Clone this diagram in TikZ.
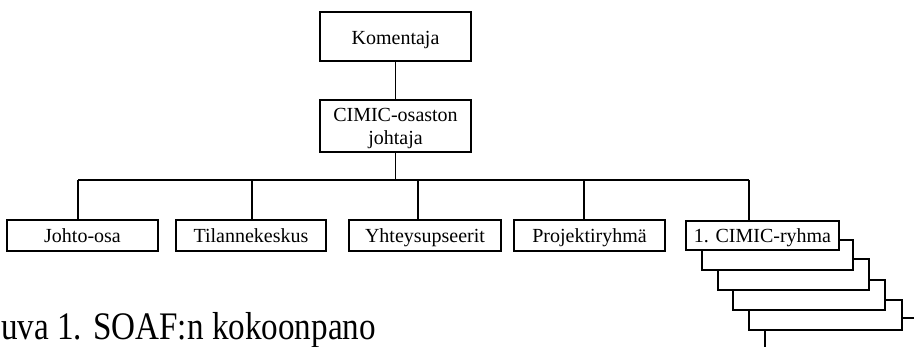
\documentclass[tikz,border=0pt]{standalone}
\usepackage{graphicx}
\usepackage{fontspec}
\setmainfont{Liberation Serif}
\begin{document}
\begin{tikzpicture}[x=1pt,y=-1pt,
  box/.style={draw,line width=1.4pt,fill=white,inner sep=0pt,align=center,
    text height=15pt,text depth=0pt,font=\fontsize{20}{23}\selectfont},
  conn/.style={line width=1.4pt}]
\useasboundingbox (0,0) rectangle (914,347);
\node[box,minimum width=151pt,minimum height=49pt,text height=17pt] (kom) at (395.5,36.5) {Komentaja};
\node[box,minimum width=151pt,minimum height=52pt,text height=38pt] (cim) at (395.5,126) {CIMIC-osaston\\johtaja};
\node[box,minimum width=151pt,minimum height=31pt] (joh) at (82.5,235.5) {Johto-osa};
\node[box,minimum width=150pt,minimum height=31pt] (til) at (251,235.5) {Tilannekeskus};
\node[box,minimum width=152pt,minimum height=31pt] (yht) at (425,235.5) {Yhteysupseerit};
\node[box,minimum width=151pt,minimum height=31pt] (pro) at (589.5,235.5) {Projektiryhmä};
\node[box,minimum width=153pt,minimum height=30pt] (g5) at (825.5,315) {};
\node[box,minimum width=152pt,minimum height=30pt] (g4) at (809,295) {};
\node[box,minimum width=151pt,minimum height=31pt] (g3) at (793.5,274.5) {};
\node[box,minimum width=151pt,minimum height=30pt] (g2) at (777.5,255) {};
\node[box,minimum width=153pt,minimum height=29pt] (g1) at (762.5,235.5) {1. CIMIC-ryhma};
\coordinate (b1) at (78,180);
\coordinate (b2) at (252,180);
\coordinate (b3) at (418,180);
\coordinate (b4) at (584,180);
\coordinate (b5) at (749,180);
\coordinate (bc) at (395.5,180);
\coordinate (r5) at (914,318);
\coordinate (d5) at (765,347);
\draw[conn] (kom) -- (cim);
\draw[conn] (cim) -- (bc);
\draw[conn] (b1) -- (b5);
\draw[conn] (b1) -- (b1 |- joh.north);
\draw[conn] (b2) -- (b2 |- til.north);
\draw[conn] (b3) -- (b3 |- yht.north);
\draw[conn] (b4) -- (b4 |- pro.north);
\draw[conn] (b5) -- (b5 |- g1.north);
\draw[conn] (r5 -| g5.east) -- (r5);
\draw[conn] (d5 |- g5.south) -- (d5);
\node[anchor=base west,inner sep=0pt,font=\fontsize{39}{42}\selectfont] (cap) at (1,340) {\scalebox{0.85}[1]{uva 1. SOAF:n kokoonpano}};
\end{tikzpicture}
\end{document}
